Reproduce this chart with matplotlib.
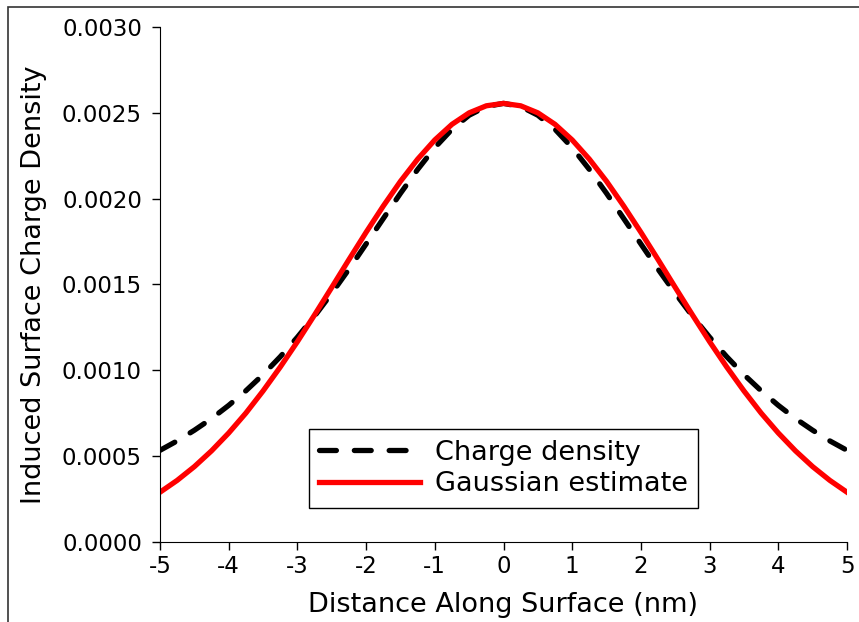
import numpy as np
import matplotlib
matplotlib.use("Agg")
import matplotlib.pyplot as plt
from matplotlib.patches import Rectangle

# distance along surface (nm)
x_nm = [-5.0, -4.75, -4.5, -4.25, -4.0, -3.75, -3.5, -3.25, -3.0, -2.75, -2.5,
        -2.25, -2.0, -1.75, -1.5, -1.25, -1.0, -0.75, -0.5, -0.25, 0.0,
        0.25, 0.5, 0.75, 1.0, 1.25, 1.5, 1.75, 2.0, 2.25, 2.5,
        2.75, 3.0, 3.25, 3.5, 3.75, 4.0, 4.25, 4.5, 4.75, 5.0]

# charge density, units of 1e-3
charge = [0.534, 0.589, 0.651, 0.719, 0.796, 0.881, 0.975, 1.079, 1.193, 1.316, 1.449,
          1.589, 1.736, 1.884, 2.031, 2.170, 2.297, 2.404, 2.486, 2.537, 2.555,
          2.537, 2.486, 2.404, 2.297, 2.170, 2.031, 1.884, 1.736, 1.589, 1.449,
          1.316, 1.193, 1.079, 0.975, 0.881, 0.796, 0.719, 0.651, 0.589, 0.534]

# gaussian estimate, units of 1e-3
gauss = [0.290, 0.359, 0.439, 0.531, 0.635, 0.751, 0.880, 1.019, 1.167, 1.323, 1.483,
         1.645, 1.804, 1.957, 2.101, 2.230, 2.342, 2.433, 2.500, 2.541, 2.555,
         2.541, 2.500, 2.433, 2.342, 2.230, 2.101, 1.957, 1.804, 1.645, 1.483,
         1.323, 1.167, 1.019, 0.880, 0.751, 0.635, 0.531, 0.439, 0.359, 0.290]

x_ticks = [-5, -4, -3, -2, -1, 0, 1, 2, 3, 4, 5]
y_ticks = [0.0, 0.0005, 0.0010, 0.0015, 0.0020, 0.0025, 0.0030]

plt.rcParams["axes.unicode_minus"] = False
plt.rcParams["font.family"] = "DejaVu Sans"

fig = plt.figure(figsize=(8.59, 6.22), dpi=100, facecolor="white")
ax = fig.add_axes([160 / 859, 1 - 542 / 622, 687 / 859, 515 / 622])

# cropped frame around the figure (only left/top visible)
fig.patches.append(Rectangle((8 / 859, -0.2), 1.2, 1 - 7 / 622 + 0.2,
                             transform=fig.transFigure, fill=False,
                             edgecolor="#333333", linewidth=1.2))

xs = np.array(x_nm)
ax.plot(xs, np.array(charge) * 1e-3, color="black", lw=3.8,
        ls=(0, (3.2, 3.4)), dash_capstyle="round", label="Charge density")
ax.plot(xs, np.array(gauss) * 1e-3, color="red", lw=3.8, label="Gaussian estimate")

ax.set_xlim(-5, 5)
ax.set_ylim(0, 0.003)
ax.set_xticks(x_ticks)
ax.set_xticklabels([str(t) for t in x_ticks])
ax.set_yticks(y_ticks)
ax.set_yticklabels([f"{t:.4f}" for t in y_ticks])
ax.spines["top"].set_visible(False)
ax.spines["right"].set_visible(False)
ax.tick_params(direction="out", length=6, width=1, labelsize=16.5)
ax.tick_params(axis="y", pad=7)
ax.set_xlabel("Distance Along Surface (nm)", fontsize=19.5, labelpad=10)
ax.set_ylabel("Induced Surface Charge Density", fontsize=19.5, labelpad=11)

leg = ax.legend(loc="lower center", bbox_to_anchor=(0.5, 0.066), fontsize=19.5,
                fancybox=False, edgecolor="black", framealpha=1,
                handlelength=3.7, handletextpad=0.55, borderpad=0.4,
                labelspacing=0.2, borderaxespad=0)
leg.get_frame().set_linewidth(1)

fig.savefig("out.png", dpi=100, facecolor="white")
